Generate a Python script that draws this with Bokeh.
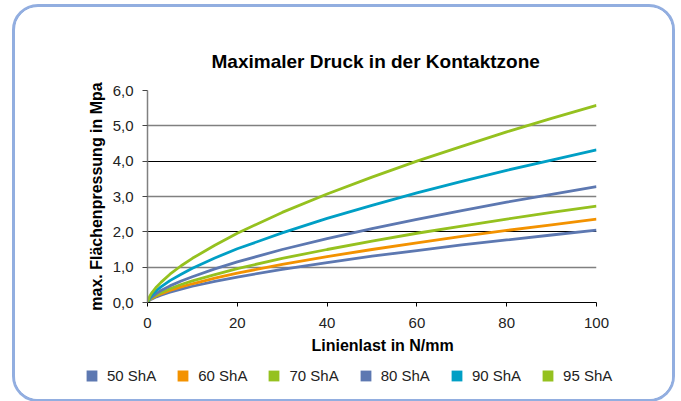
import math
from bokeh.plotting import figure
from bokeh.layouts import column, row
from bokeh.models import (Range1d, FixedTicker, Grid, Legend, LegendItem, Title)
from bokeh.embed import file_html
from bokeh.resources import INLINE

# ---- data ----
linienlast = [0, 0.5, 1, 2, 3, 5, 7.5, 10, 15, 20, 30, 40, 50, 60, 70, 80, 90, 100]
druck_50 = [0, 0.07, 0.10, 0.16, 0.21, 0.29, 0.38, 0.46, 0.60, 0.72, 0.94, 1.13, 1.31, 1.47, 1.63, 1.77, 1.91, 2.05]
druck_60 = [0, 0.08, 0.12, 0.19, 0.24, 0.34, 0.44, 0.53, 0.69, 0.83, 1.08, 1.30, 1.50, 1.69, 1.87, 2.04, 2.20, 2.36]
druck_70 = [0, 0.09, 0.14, 0.21, 0.28, 0.39, 0.51, 0.61, 0.79, 0.96, 1.25, 1.50, 1.74, 1.96, 2.16, 2.36, 2.55, 2.73]
druck_80 = [0, 0.10, 0.16, 0.26, 0.34, 0.47, 0.61, 0.73, 0.95, 1.15, 1.50, 1.81, 2.09, 2.35, 2.60, 2.84, 3.06, 3.28]
druck_90 = [0, 0.14, 0.22, 0.34, 0.44, 0.62, 0.80, 0.97, 1.26, 1.52, 1.97, 2.38, 2.75, 3.10, 3.43, 3.74, 4.03, 4.32]
druck_95 = [0, 0.18, 0.28, 0.44, 0.57, 0.80, 1.04, 1.25, 1.62, 1.96, 2.55, 3.07, 3.55, 4.00, 4.42, 4.83, 5.21, 5.58]

series_names = ["50 ShA", "60 ShA", "70 ShA", "80 ShA", "90 ShA", "95 ShA"]
series_values = [druck_50, druck_60, druck_70, druck_80, druck_90, druck_95]
series_colors = ["#5d78b1", "#f39200", "#95c11f", "#5d78b1", "#009fc5", "#95c11f"]

x_ticks = [0, 20, 40, 60, 80, 100]
x_tick_labels = ["0", "20", "40", "60", "80", "100"]
y_ticks = [0, 1, 2, 3, 4, 5, 6]
y_tick_labels = ["0,0", "1,0", "2,0", "3,0", "4,0", "5,0", "6,0"]
grid_dark = [2, 4, 6]
grid_light = [1, 3, 5]

title_text = "Maximaler Druck in der Kontaktzone"
x_label_text = "Linienlast in N/mm"
y_label_text = "max. Flächenpressung in Mpa"

FONT = "Liberation Sans"

# ---- main chart ----
p = figure(width=657, height=350, output_backend="svg", toolbar_location=None,
           x_range=Range1d(0, 100), y_range=Range1d(0, 6),
           min_border_left=132, min_border_right=76, min_border_top=83, min_border_bottom=55)
p.outline_line_color = None
p.background_fill_color = "white"
p.border_fill_color = "white"

p.title.text = title_text
p.title.align = "left"
p.title.offset = 64
p.title.standoff = 38
p.title.text_font = FONT
p.title.text_font_size = "19px"
p.title.text_font_style = "bold"
p.title.text_color = "black"

p.xgrid.visible = False
p.ygrid.ticker = FixedTicker(ticks=grid_dark)
p.ygrid.grid_line_color = "black"
p.ygrid.grid_line_width = 1
g2 = Grid(dimension=1, ticker=FixedTicker(ticks=grid_light),
          grid_line_color="#808080", grid_line_width=1.6)
p.add_layout(g2)

xa = p.xaxis[0]
xa.ticker = FixedTicker(ticks=x_ticks)
xa.major_label_overrides = {t: l for t, l in zip(x_ticks, x_tick_labels)}
xa.axis_line_color = "black"
xa.major_tick_line_color = "black"
xa.major_tick_in = 0
xa.major_tick_out = 4
xa.minor_tick_line_color = None
xa.major_label_text_font = FONT
xa.major_label_text_font_size = "15px"
xa.major_label_text_color = "#222222"
xa.major_label_standoff = 11

ya = p.yaxis[0]
ya.ticker = FixedTicker(ticks=y_ticks)
ya.major_label_overrides = {t: l for t, l in zip(y_ticks, y_tick_labels)}
ya.axis_line_color = "#808080"
ya.axis_line_width = 1.5
ya.major_tick_line_color = "#444444"
ya.major_tick_in = 0
ya.major_tick_out = 5
ya.minor_tick_line_color = None
ya.major_label_text_font = FONT
ya.major_label_text_font_size = "15px"
ya.major_label_text_color = "#222222"
ya.major_label_standoff = 9
ya.axis_label = y_label_text
ya.axis_label_text_font = FONT
ya.axis_label_text_font_size = "16px"
ya.axis_label_text_font_style = "bold"
ya.axis_label_text_color = "black"
ya.axis_label_standoff = 5

xt = Title(text=x_label_text, align="left", offset=164, standoff=8,
           text_font=FONT, text_font_size="16px", text_font_style="bold",
           text_color="black")
p.add_layout(xt, "below")

for vals, col in zip(series_values, series_colors):
    p.line(linienlast, vals, line_color=col, line_width=2.8)

# ---- legend strip ----
leg = figure(width=657, height=42, output_backend="svg", toolbar_location=None,
             x_range=Range1d(0, 1), y_range=Range1d(0, 1),
             x_axis_type=None, y_axis_type=None,
             min_border_left=0, min_border_right=0, min_border_top=0, min_border_bottom=0)
leg.outline_line_color = None
leg.grid.visible = False
leg.border_fill_color = "white"
leg.background_fill_color = "white"

items = []
for name, vals, col in zip(series_names, series_values, series_colors):
    r = leg.scatter(x=linienlast[:1], y=vals[:1], marker="square", size=0,
                    fill_color=col, line_color=None)
    items.append(LegendItem(label=name, renderers=[r]))
legend = Legend(items=items, orientation="horizontal", location=(63, 10),
                border_line_color=None, background_fill_alpha=0,
                padding=0, margin=0, spacing=13,
                glyph_width=27, glyph_height=27, label_height=27,
                label_standoff=2, label_text_font=FONT,
                label_text_font_size="15px", label_text_color="#222222")
leg.add_layout(legend, "center")

layout = column(p, row(leg), spacing=0,
                styles={"border": "3px solid #92aee0", "border-radius": "26px",
                        "margin-left": "12px", "margin-top": "4px",
                        "overflow": "hidden", "background-color": "white"})

open("out.html", "w").write(file_html(layout, INLINE))
